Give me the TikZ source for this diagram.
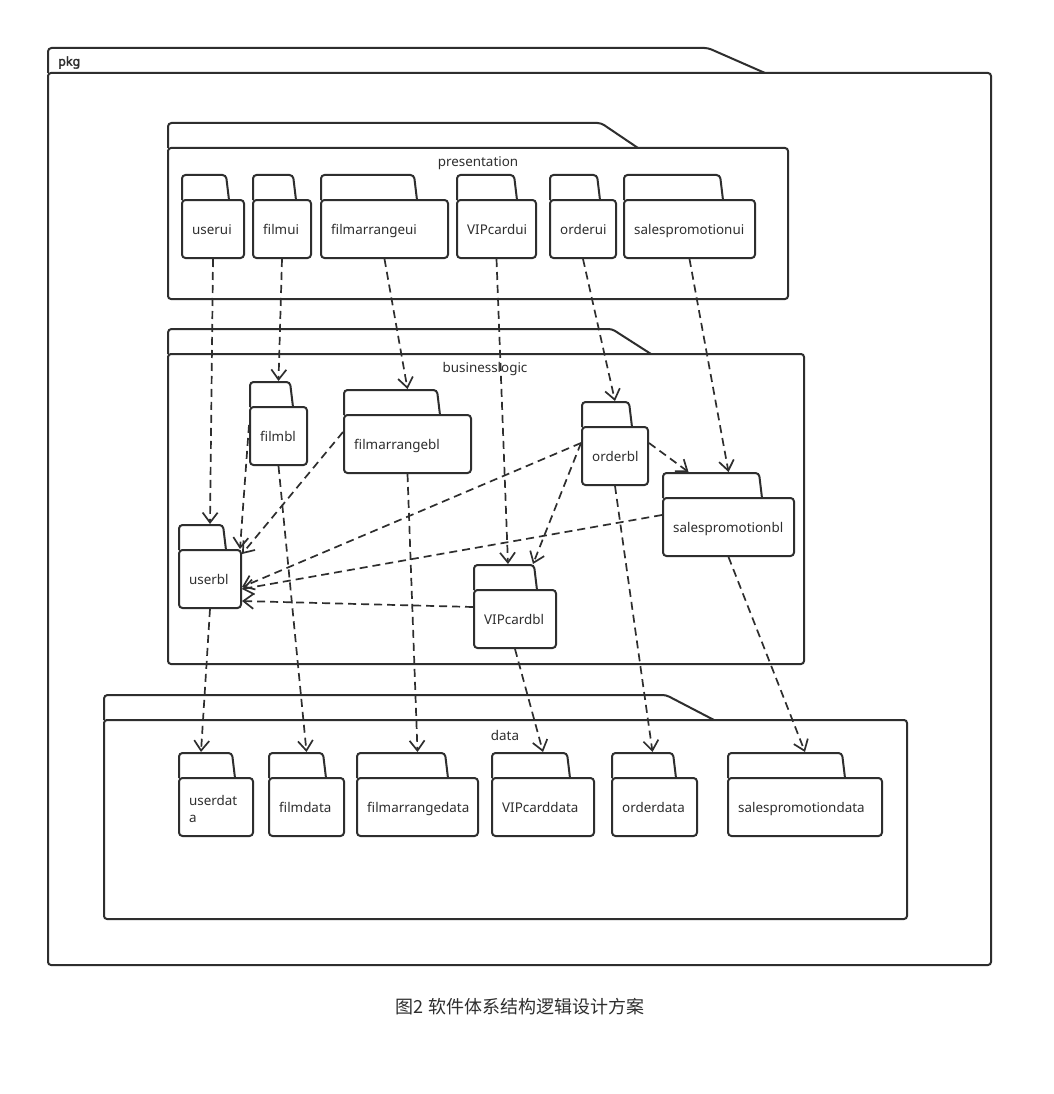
\documentclass[tikz,border=0pt]{standalone}
\usepackage{fontspec}
\setmainfont{Noto Sans}
\newfontfamily\cjk{Noto Sans CJK SC}
\newfontfamily\boldsans[FakeBold=2.5]{Noto Sans}
\usetikzlibrary{arrows.meta,calc}
\definecolor{ink}{HTML}{2E2E2E}
\tikzset{
  fbody/.style={draw=ink, line width=2pt, rounded corners=3.5pt, inner sep=0pt},
  flabelbase/.style={inner sep=0pt, align=left, font=\fontsize{13.4}{17}\selectfont, text=ink},
  flabel/.style={flabelbase, anchor=base west, yshift=-5.5pt},
  flabeltwo/.style={flabelbase, anchor=west, yshift=-2pt},
  ftab/.style={draw=ink, line width=2pt, rounded corners=3.5pt},
  cbox/.style={draw=ink, line width=2pt, rounded corners=3pt, inner sep=0pt},
  clabel/.style={font=\fontsize{13.4}{15}\selectfont, text=ink, inner sep=0pt},
  dep/.style={draw=ink, line width=1.7pt, dash pattern=on 8pt off 5pt,
    -{Straight Barb[length=10pt,width=15pt,line width=1.7pt]}},
}
\newcommand\umlfolder[9][flabel]{%
  \pgfmathsetmacro\fw{#4-#3}%
  \pgfmathsetmacro\fh{#7-#6}%
  \pgfmathsetmacro\fx{(#3+#4)/2}%
  \pgfmathsetmacro\fy{(#6+#7)/2}%
  \pgfmathsetmacro\ft{#8-3}%
  \node[fbody, minimum width=\fw pt, minimum height=\fh pt] (#2) at (\fx,\fy) {};
  \draw[ftab] (#3,#6) -- (#3,#5) -- (\ft,#5) -- (#8,#6);
  \node[#1] (#2label) at (#3+10,\fy) {#9};
}
\begin{document}
\begin{tikzpicture}[x=1pt,y=-1pt]
\useasboundingbox[fill=white] (0,0) rectangle (1053,1094);
% outer package
\node[cbox, minimum width=943pt, minimum height=892pt] (pkgbody) at (519.5,519) {};
\draw[ftab] (48,73) -- (48,48) -- (708,48) -- (765,73);
\node[font=\boldsans\fontsize{12.5}{14}\selectfont, text=ink, anchor=west, inner sep=0pt] (pkglabel) at (58,62.5) {pkg};
% presentation
\node[cbox, minimum width=620pt, minimum height=151pt] (presentation) at (478,223.5) {};
\draw[ftab] (168,148) -- (168,123) -- (601,123) -- (638,148);
\node[clabel] (presentationlabel) at (478,163.5) {presentation};
% businesslogic
\node[cbox, minimum width=636pt, minimum height=310pt] (businesslogic) at (486,509) {};
\draw[ftab] (168,354) -- (168,329) -- (612,329) -- (651,354);
\node[clabel] (businesslogiclabel) at (485,369.5) {businesslogic};
% data
\node[cbox, minimum width=803pt, minimum height=199pt] (data) at (505.5,819.5) {};
\draw[ftab] (104,720) -- (104,695) -- (666,695) -- (714,720);
\node[clabel] (datalabel) at (505,735.5) {data};
% presentation folders
\umlfolder{userui}{182}{244}{175}{200}{258}{229}{userui}
\umlfolder{filmui}{253}{311}{175}{200}{258}{296}{filmui}
\umlfolder{filmarrangeui}{321}{448}{175}{200}{258}{417}{filmarrangeui}
\umlfolder{VIPcardui}{457}{536}{175}{200}{258}{517}{VIPcardui}
\umlfolder{orderui}{550}{616}{175}{200}{258}{600}{orderui}
\umlfolder{salespromotionui}{624}{755}{175}{200}{258}{723}{salespromotionui}
% businesslogic folders
\umlfolder{filmbl}{250}{307}{382}{407}{465}{293}{filmbl}
\umlfolder{filmarrangebl}{344}{471}{390}{415}{473}{440}{filmarrangebl}
\umlfolder{orderbl}{582}{648}{402}{427}{485}{632}{orderbl}
\umlfolder{salespromotionbl}{663}{794}{473}{498}{556}{762}{salespromotionbl}
\umlfolder{userbl}{179}{241}{525}{550}{608}{226}{userbl}
\umlfolder{VIPcardbl}{474}{556}{565}{590}{648}{537}{VIPcardbl}
% data folders
\umlfolder[flabeltwo]{userdata}{179}{253}{753}{778}{836}{235}{userdat\\a}
\umlfolder{filmdata}{269}{344}{753}{778}{836}{326}{filmdata}
\umlfolder{filmarrangedata}{357}{478}{753}{778}{836}{448}{filmarrangedata}
\umlfolder{VIPcarddata}{492}{594}{753}{778}{836}{570}{VIPcarddata}
\umlfolder{orderdata}{612}{697}{753}{778}{836}{676}{orderdata}
\umlfolder{salespromotiondata}{728}{882}{753}{778}{836}{845}{salespromotiondata}
% presentation -> businesslogic
\draw[dep] (userui.south) -- ([yshift=25pt]userbl.north);
\draw[dep] (filmui.south) -- ([yshift=25pt]filmbl.north);
\draw[dep] (filmarrangeui.south) -- ([yshift=25pt]filmarrangebl.north);
\draw[dep] (VIPcardui.south) -- ([xshift=-7pt,yshift=25pt]VIPcardbl.north);
\draw[dep] (orderui.south) -- ([yshift=25pt]orderbl.north);
\draw[dep] (salespromotionui.south) -- ([yshift=25pt]salespromotionbl.north);
% inside businesslogic
\draw[dep] ([yshift=11pt]filmbl.west) -- ([xshift=-2pt]userbl.north east);
\draw[dep] ([yshift=12pt]filmarrangebl.west) -- ([yshift=-5pt]userbl.north east);
\draw[dep] ([yshift=13pt]orderbl.west) -- ([yshift=-8pt]userbl.east);
\draw[dep] ([yshift=12pt]salespromotionbl.west) -- ([yshift=-10pt]userbl.east);
\draw[dep] ([yshift=12pt]VIPcardbl.west) -- ([yshift=-22pt]userbl.east);
\draw[dep] ([yshift=13pt]orderbl.west) -- ([xshift=18pt,yshift=25pt]VIPcardbl.north);
\draw[dep] ([yshift=13pt]orderbl.east) -- ([xshift=-40pt,yshift=25pt]salespromotionbl.north);
% businesslogic -> data
\draw[dep] (userbl.south) -- ([xshift=-15pt,yshift=25pt]userdata.north);
\draw[dep] (filmbl.south) -- ([yshift=25pt]filmdata.north);
\draw[dep] (filmarrangebl.south) -- ([yshift=25pt]filmarrangedata.north);
\draw[dep] (VIPcardbl.south) -- ([yshift=25pt]VIPcarddata.north);
\draw[dep] (orderbl.south) -- ([xshift=-2pt,yshift=25pt]orderdata.north);
\draw[dep] (salespromotionbl.south) -- ([yshift=25pt]salespromotiondata.north);
% caption
\node[font=\cjk\fontsize{18}{20}\selectfont, text=ink, inner sep=0pt] (caption) at (520,1007) {图2 软件体系结构逻辑设计方案};
\end{tikzpicture}
\end{document}
